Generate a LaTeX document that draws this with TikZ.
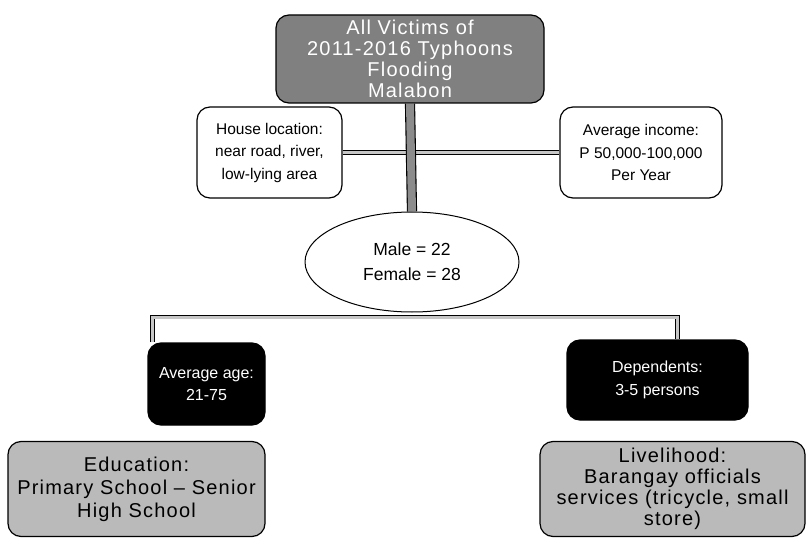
\documentclass[tikz,border=0pt]{standalone}
\usepackage{fontspec}
\setmainfont{Liberation Sans}
\usetikzlibrary{shapes.geometric}

\begin{document}
\begin{tikzpicture}[x=1pt,y=-1pt,
  every node/.style={align=center, inner sep=0pt, font=\fontsize{15.5}{22.5}\selectfont},
  box/.style={draw=black, line width=1.2pt, rounded corners=13pt},
  bigtext/.style={font=\fontsize{20}{21}\selectfont\addfontfeatures{LetterSpace=6}},
  whitebox/.style={box, fill=white},
  greytop/.style={box, fill=black!50, text=white, bigtext},
  darkbox/.style={box, fill=black, text=white, font=\fontsize{16}{22.5}\selectfont},
  greylow/.style={box, fill=black!27, bigtext},
  bar/.style={draw=black, line width=1.1pt, double=black!45, double distance=8pt},
  link/.style={draw=black, line width=0.8pt, double=gray!45, double distance=3pt}]
\useasboundingbox (0,0) rectangle (808,540);

\node[greytop, minimum width=268pt, minimum height=88pt] (victims) at (410,59)
  {All Victims of\\2011-2016 Typhoons\\Flooding\\Malabon};
\node[whitebox, minimum width=145pt, minimum height=91pt] (house) at (269.5,152.5)
  {House location:\\near road, river,\\low-lying area};
\node[whitebox, minimum width=162pt, minimum height=91pt] (income) at (641,152.5)
  {Average income:\\P 50,000-100,000\\Per Year};
\node[draw=black, line width=1pt, ellipse, fill=white, minimum width=214pt, minimum height=100pt,
  font=\fontsize{17.5}{25}\selectfont] (sex) at (412,262)
  {Male = 22\\Female = 28};
\node[darkbox, minimum width=117pt, minimum height=82pt] (age) at (206.5,384)
  {Average age:\\21-75};
\node[darkbox, minimum width=181pt, minimum height=80pt] (dep) at (657.5,380)
  {Dependents:\\3-5 persons};
\node[greylow, minimum width=257pt, minimum height=95pt, font=\fontsize{20}{23}\selectfont\addfontfeatures{LetterSpace=6}] (edu) at (136.5,489)
  {Education:\\Primary School -- Senior\\High School};
\node[greylow, minimum width=265pt, minimum height=95pt] (live) at (672.5,489)
  {Livelihood:\\Barangay officials\\services (tricycle, small\\store)};

% connectors
\coordinate (split) at (412,317);
\draw[link] (house.east) -- (income.west);
\draw[bar] (victims.south) -- (sex.north);
\draw[link] ([xshift=-54pt]age.north) |- (split) -| ([xshift=20pt]dep.north);
\end{tikzpicture}
\end{document}
